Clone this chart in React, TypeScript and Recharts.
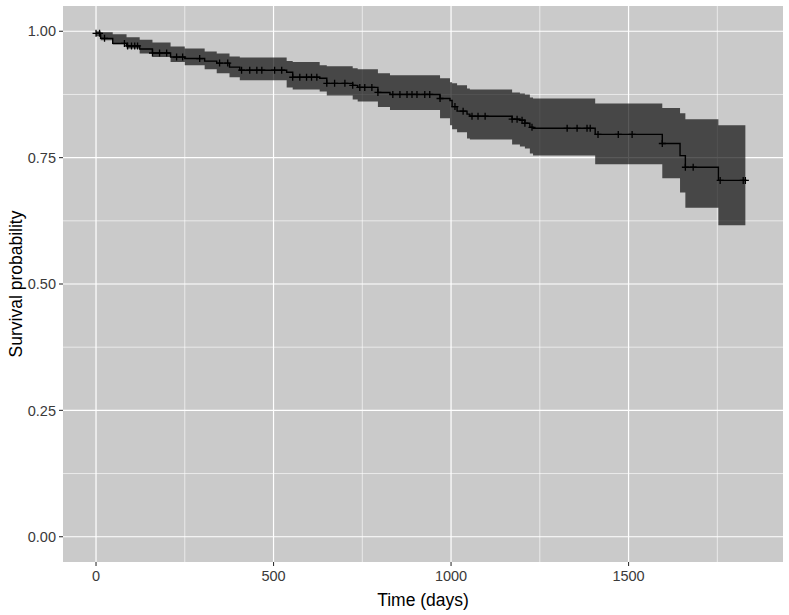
import React from "react";
import {
  ComposedChart,
  Area,
  Line,
  Scatter,
  XAxis,
  YAxis,
  CartesianGrid,
} from "recharts";

// step times (days) and Kaplan-Meier estimate with 95% band
const times = [0, 13, 47, 86, 123, 159, 210, 250, 306, 340, 376, 405, 537, 554, 630, 650, 723, 737, 794, 828, 969, 997, 1003, 1017, 1045, 1053, 1172, 1194, 1208, 1222, 1231, 1406, 1595, 1645, 1660, 1753, 1829];
const surv = [0.996, 0.986, 0.976, 0.971, 0.965, 0.957, 0.949, 0.946, 0.941, 0.937, 0.929, 0.923, 0.919, 0.909, 0.907, 0.897, 0.893, 0.889, 0.879, 0.875, 0.867, 0.863, 0.851, 0.842, 0.836, 0.832, 0.826, 0.824, 0.818, 0.81, 0.808, 0.796, 0.778, 0.754, 0.731, 0.705, 0.705];
const upper = [1.0, 0.998, 0.994, 0.988, 0.983, 0.978, 0.97, 0.966, 0.96, 0.956, 0.95, 0.948, 0.941, 0.939, 0.933, 0.931, 0.927, 0.925, 0.917, 0.913, 0.907, 0.899, 0.897, 0.893, 0.887, 0.885, 0.879, 0.877, 0.875, 0.869, 0.867, 0.857, 0.848, 0.838, 0.826, 0.814, 0.814];
const lower = [0.99, 0.982, 0.974, 0.966, 0.956, 0.949, 0.939, 0.933, 0.925, 0.917, 0.909, 0.903, 0.889, 0.885, 0.881, 0.873, 0.865, 0.861, 0.85, 0.844, 0.828, 0.814, 0.806, 0.8, 0.788, 0.786, 0.776, 0.772, 0.768, 0.758, 0.754, 0.737, 0.709, 0.681, 0.651, 0.616, 0.616];

// censored observations ("+" marks)
const censorTimes = [0, 10, 24, 80, 89, 100, 109, 117, 159, 179, 199, 227, 244, 292, 348, 371, 410, 433, 453, 467, 503, 523, 554, 574, 593, 607, 622, 650, 672, 701, 723, 743, 757, 777, 794, 836, 856, 876, 890, 904, 926, 940, 969, 1011, 1034, 1059, 1076, 1096, 1172, 1186, 1200, 1208, 1228, 1327, 1355, 1383, 1392, 1414, 1471, 1510, 1595, 1660, 1682, 1758, 1823, 1829];

const xTicks = [0, 500, 1000, 1500];
const xMinor = [250, 750, 1250, 1750];
const yTicks = [0, 0.25, 0.5, 0.75, 1];
const yMinor = [0.125, 0.375, 0.625, 0.875];

const rows = times.map((t, i) => ({
  t,
  s: surv[i],
  band: [lower[i], upper[i]],
}));

// KM value at a given time (last step at or before t)
function survAt(t: number) {
  let v = surv[0];
  for (let i = 0; i < times.length; i++) {
    if (times[i] <= t) v = surv[i];
  }
  return v;
}

const censorRows = censorTimes.map((t) => ({ t, s: survAt(t) }));

const FONT = "'Liberation Sans', Arial, sans-serif";

function Cross(props: any) {
  const { cx, cy } = props;
  if (cx == null || cy == null) return null;
  return (
    <path
      d={`M${cx - 3.5},${cy}h7M${cx},${cy - 3.5}v7`}
      stroke="#000"
      strokeWidth={1.3}
      fill="none"
    />
  );
}

export default function App() {
  return (
    <div style={{ width: 789, height: 615, background: "#fff", fontFamily: FONT }}>
      <style>{"body{margin:0}"}</style>
      <ComposedChart
        width={789}
        height={615}
        data={rows}
        margin={{ top: 6, right: 6, left: 0, bottom: 0 }}
      >
        <CartesianGrid
          fill="#cacaca"
          stroke="#ffffff"
          strokeWidth={0.6}
          verticalValues={xMinor}
          horizontalValues={yMinor}
        />
        <CartesianGrid
          stroke="#ffffff"
          strokeWidth={1.2}
          verticalValues={xTicks}
          horizontalValues={yTicks}
        />
        <XAxis
          dataKey="t"
          type="number"
          domain={[-93, 1935]}
          ticks={xTicks}
          allowDataOverflow
          axisLine={false}
          tickLine={{ stroke: "#333", strokeWidth: 1.1 }}
          tickSize={4}
          tickMargin={5}
          height={53}
          tick={{ fill: "#3a3a3a", fontSize: 14.5, fontFamily: FONT }}
          label={{
            content: ({ viewBox }: any) => (
              <text
                x={viewBox.x + viewBox.width / 2}
                y={viewBox.y + 44}
                textAnchor="middle"
                fill="#000"
                fontSize={17.5}
                fontFamily={FONT}
              >
                Time (days)
              </text>
            ),
          }}
        />
        <YAxis
          type="number"
          domain={[-0.05, 1.05]}
          ticks={yTicks}
          allowDataOverflow
          axisLine={false}
          tickLine={{ stroke: "#333", strokeWidth: 1.1 }}
          tickSize={4}
          tickMargin={3}
          width={63}
          tickFormatter={(v: number) => v.toFixed(2)}
          tick={{ fill: "#3a3a3a", fontSize: 14.5, fontFamily: FONT }}
          label={{
            content: ({ viewBox }: any) => {
              const x = viewBox.x + 16;
              const y = viewBox.y + viewBox.height / 2;
              return (
                <text
                  x={x}
                  y={y}
                  transform={`rotate(-90, ${x}, ${y})`}
                  textAnchor="middle"
                  dominantBaseline="central"
                  fill="#000"
                  fontSize={17.5}
                  fontFamily={FONT}
                >
                  Survival probability
                </text>
              );
            },
          }}
        />
        <Area
          dataKey="band"
          type="stepAfter"
          fill="#000"
          fillOpacity={0.65}
          stroke="none"
          isAnimationActive={false}
        />
        <Line
          dataKey="s"
          type="stepAfter"
          stroke="#000"
          strokeWidth={1.4}
          dot={false}
          activeDot={false}
          isAnimationActive={false}
        />
        <Scatter
          data={censorRows}
          dataKey="s"
          shape={<Cross />}
          isAnimationActive={false}
        />
      </ComposedChart>
    </div>
  );
}
